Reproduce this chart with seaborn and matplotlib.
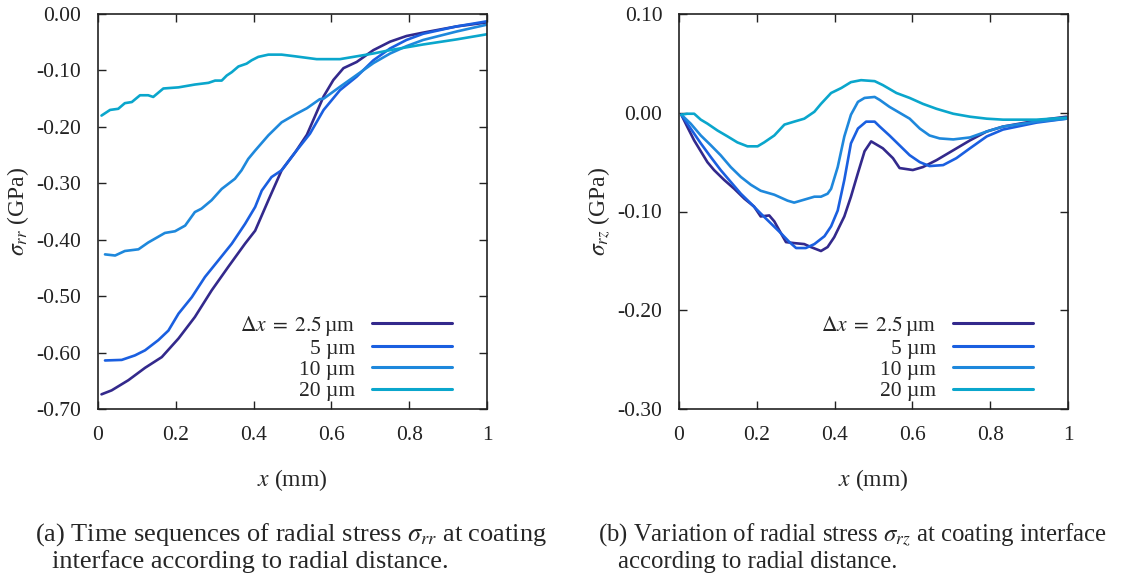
import numpy as np
import pandas as pd
import matplotlib
matplotlib.use("Agg")
import matplotlib.pyplot as plt
from matplotlib.ticker import FormatStrFormatter, FixedLocator
import seaborn as sns

# ---------------- data: sigma_rr (left panel) ----------------
rr_x_25 = [0.009, 0.035, 0.078, 0.121, 0.164, 0.207, 0.249, 0.292, 0.335, 0.378, 0.404, 0.438, 0.472,
           0.507, 0.537, 0.580, 0.605, 0.631, 0.665, 0.708, 0.751, 0.793, 0.836, 0.922, 0.999]
rr_y_25 = [-0.674, -0.667, -0.649, -0.627, -0.608, -0.575, -0.537, -0.490, -0.448, -0.407, -0.384, -0.330, -0.277,
           -0.245, -0.214, -0.146, -0.117, -0.096, -0.085, -0.064, -0.049, -0.039, -0.033, -0.022, -0.015]

rr_x_5 = [0.018, 0.061, 0.095, 0.121, 0.155, 0.181, 0.207, 0.241, 0.275, 0.309, 0.344, 0.378, 0.404, 0.421,
          0.446, 0.472, 0.507, 0.545, 0.580, 0.622, 0.665, 0.708, 0.751, 0.793, 0.836, 0.922, 0.999]
rr_y_5 = [-0.614, -0.613, -0.605, -0.596, -0.578, -0.561, -0.531, -0.502, -0.466, -0.437, -0.407, -0.372, -0.342, -0.313,
          -0.289, -0.277, -0.245, -0.212, -0.170, -0.135, -0.111, -0.082, -0.061, -0.046, -0.035, -0.022, -0.013]

rr_x_10 = [0.018, 0.044, 0.069, 0.104, 0.129, 0.172, 0.198, 0.224, 0.249, 0.266, 0.292, 0.318, 0.352, 0.369,
           0.386, 0.404, 0.438, 0.472, 0.507, 0.537, 0.570, 0.580, 0.622, 0.665, 0.708, 0.751, 0.793, 0.836, 0.922, 0.999]
rr_y_10 = [-0.426, -0.428, -0.420, -0.417, -0.405, -0.388, -0.385, -0.375, -0.351, -0.345, -0.330, -0.310, -0.292, -0.277,
           -0.257, -0.242, -0.215, -0.192, -0.178, -0.167, -0.151, -0.150, -0.129, -0.108, -0.087, -0.070, -0.057, -0.046,
           -0.031, -0.019]

rr_x_20 = [0.009, 0.031, 0.052, 0.069, 0.087, 0.108, 0.129, 0.142, 0.168, 0.207, 0.249, 0.284, 0.301, 0.318, 0.331,
           0.344, 0.361, 0.382, 0.395, 0.412, 0.438, 0.472, 0.507, 0.562, 0.622, 0.708, 0.751, 0.836, 0.922, 0.999]
rr_y_20 = [-0.180, -0.170, -0.168, -0.158, -0.156, -0.144, -0.144, -0.147, -0.132, -0.130, -0.125, -0.122, -0.118, -0.118,
           -0.109, -0.103, -0.093, -0.088, -0.082, -0.076, -0.072, -0.072, -0.075, -0.080, -0.080, -0.070, -0.064, -0.054,
           -0.045, -0.036]

# ---------------- data: sigma_rz (right panel) ----------------
rz_x_25 = [0.006, 0.021, 0.039, 0.056, 0.073, 0.090, 0.116, 0.142, 0.168, 0.193, 0.210, 0.232, 0.245, 0.262, 0.275,
           0.296, 0.322, 0.339, 0.365, 0.382, 0.399, 0.425, 0.442, 0.460, 0.477, 0.494, 0.524, 0.550, 0.567, 0.601,
           0.627, 0.662, 0.705, 0.748, 0.791, 0.833, 0.919, 0.996]
rz_y_25 = [-0.002, -0.014, -0.028, -0.039, -0.050, -0.058, -0.068, -0.077, -0.087, -0.095, -0.105, -0.104, -0.110, -0.122,
           -0.131, -0.132, -0.133, -0.136, -0.140, -0.136, -0.126, -0.105, -0.085, -0.061, -0.039, -0.029, -0.036, -0.046,
           -0.056, -0.058, -0.055, -0.048, -0.038, -0.028, -0.019, -0.014, -0.008, -0.004]

rz_x_5 = [0.006, 0.030, 0.056, 0.082, 0.107, 0.133, 0.159, 0.185, 0.210, 0.236, 0.262, 0.284, 0.301, 0.326, 0.348,
          0.374, 0.391, 0.408, 0.425, 0.442, 0.460, 0.481, 0.503, 0.516, 0.541, 0.567, 0.593, 0.619, 0.644, 0.679,
          0.713, 0.748, 0.791, 0.833, 0.919, 0.996]
rz_y_5 = [-0.002, -0.016, -0.031, -0.045, -0.058, -0.070, -0.082, -0.092, -0.102, -0.112, -0.122, -0.131, -0.137, -0.137,
          -0.133, -0.125, -0.115, -0.099, -0.068, -0.031, -0.016, -0.009, -0.009, -0.014, -0.023, -0.033, -0.043, -0.050,
          -0.054, -0.053, -0.046, -0.036, -0.024, -0.017, -0.010, -0.006]

rz_x_10 = [0.006, 0.030, 0.056, 0.082, 0.107, 0.133, 0.159, 0.185, 0.210, 0.245, 0.279, 0.296, 0.322, 0.348, 0.365,
           0.382, 0.391, 0.408, 0.425, 0.442, 0.460, 0.477, 0.503, 0.516, 0.541, 0.567, 0.593, 0.619, 0.644, 0.670,
           0.705, 0.748, 0.791, 0.833, 0.919, 0.996]
rz_y_10 = [-0.002, -0.011, -0.023, -0.033, -0.043, -0.055, -0.065, -0.073, -0.079, -0.083, -0.089, -0.091, -0.088, -0.085,
           -0.085, -0.082, -0.077, -0.055, -0.024, -0.002, 0.011, 0.015, 0.016, 0.013, 0.006, 0.000, -0.006, -0.016,
           -0.023, -0.026, -0.027, -0.025, -0.019, -0.014, -0.009, -0.006]

rz_x_20 = [0.006, 0.021, 0.039, 0.056, 0.073, 0.099, 0.125, 0.150, 0.176, 0.202, 0.219, 0.245, 0.271, 0.296, 0.322,
           0.348, 0.365, 0.391, 0.417, 0.442, 0.468, 0.503, 0.524, 0.559, 0.593, 0.627, 0.662, 0.705, 0.748, 0.791,
           0.833, 0.919, 0.996]
rz_y_20 = [-0.002, -0.001, -0.001, -0.007, -0.011, -0.018, -0.024, -0.030, -0.034, -0.034, -0.030, -0.023, -0.012, -0.009,
           -0.006, 0.001, 0.009, 0.020, 0.025, 0.031, 0.033, 0.032, 0.028, 0.020, 0.015, 0.009, 0.004, -0.001, -0.004,
           -0.006, -0.007, -0.007, -0.005]

series_labels = [r"$\Delta x\;=\;2.5\,$µm", "5 µm", "10 µm", "20 µm"]
series_colors = ["#33298c", "#1a5fe0", "#1e88dc", "#0aa6cc"]

x_ticks = [0, 0.2, 0.4, 0.6, 0.8, 1.0]
rr_yticks = [0.00, -0.10, -0.20, -0.30, -0.40, -0.50, -0.60, -0.70]
rz_yticks = [0.10, 0.00, -0.10, -0.20, -0.30]

# ---------------- build long frames ----------------
def make_df(xs, ys):
    frames = []
    for lab, x, y in zip(series_labels, xs, ys):
        frames.append(pd.DataFrame({"x": x, "y": y, "series": lab}))
    return pd.concat(frames, ignore_index=True)

df_rr = make_df([rr_x_25, rr_x_5, rr_x_10, rr_x_20], [rr_y_25, rr_y_5, rr_y_10, rr_y_20])
df_rz = make_df([rz_x_25, rz_x_5, rz_x_10, rz_x_20], [rz_y_25, rz_y_5, rz_y_10, rz_y_20])

sns.set_theme(style="ticks")
plt.rcParams["font.family"] = ["Liberation Serif", "DejaVu Serif"]
plt.rcParams["mathtext.fontset"] = "stix"
plt.rcParams["axes.unicode_minus"] = False

W, H = 1131, 581
fig = plt.figure(figsize=(W / 100, H / 100), dpi=100)
ax1 = fig.add_axes([98 / W, 1 - 409 / H, 389 / W, 395 / H])
ax2 = fig.add_axes([679 / W, 1 - 409 / H, 389 / W, 395 / H])

palette = dict(zip(series_labels, series_colors))
FS = 15.5
LFS = 17

for ax, df, yt, ylab in [(ax1, df_rr, rr_yticks, r"$\sigma_{rr}$ (GPa)"),
                         (ax2, df_rz, rz_yticks, r"$\sigma_{rz}$ (GPa)")]:
    sns.lineplot(data=df, x="x", y="y", hue="series", palette=palette, hue_order=series_labels,
                 linewidth=1.9, ax=ax, sort=False, estimator=None, legend=False)
    ax.set_xlim(0, 1)
    ax.set_ylim(min(yt), max(yt))
    ax.xaxis.set_major_locator(FixedLocator(x_ticks))
    ax.yaxis.set_major_locator(FixedLocator(yt))
    ax.xaxis.set_major_formatter(FormatStrFormatter("%g"))
    ax.yaxis.set_major_formatter(FormatStrFormatter("%.2f"))
    ax.tick_params(direction="in", length=6, width=1.0, top=True, right=True,
                   labelsize=FS, colors="#222222")
    ax.tick_params(axis="x", pad=12)
    ax.tick_params(axis="y", pad=12)
    for sp in ax.spines.values():
        sp.set_linewidth(1.2)
        sp.set_color("#222222")
    ax.set_xlabel(r"$x$ (mm)", fontsize=LFS, labelpad=16)
    ax.set_ylabel(ylab, fontsize=LFS, labelpad=4)
    handles = [plt.Line2D([], [], color=c, linewidth=2.2) for c in series_colors]
    ax.legend(handles, series_labels, loc="lower right", bbox_to_anchor=(0.91, 0.02),
              frameon=False, markerfirst=False, fontsize=FS, handlelength=3.7,
              handletextpad=0.8, labelspacing=0.05, borderaxespad=0.0, borderpad=0.0)

fig.text(35 / W, 1 - 541 / H, r"(a) Time sequences of radial stress $\sigma_{rr}$ at coating",
         fontsize=19, ha="left", va="baseline")
fig.text(52 / W, 1 - 568 / H, "interface according to radial distance.",
         fontsize=19, ha="left", va="baseline")
fig.text(598 / W, 1 - 541 / H, r"(b) Variation of radial stress $\sigma_{rz}$ at coating interface",
         fontsize=17.8, ha="left", va="baseline")
fig.text(618 / W, 1 - 568 / H, "according to radial distance.",
         fontsize=17.8, ha="left", va="baseline")

fig.savefig("out.png", dpi=100)
